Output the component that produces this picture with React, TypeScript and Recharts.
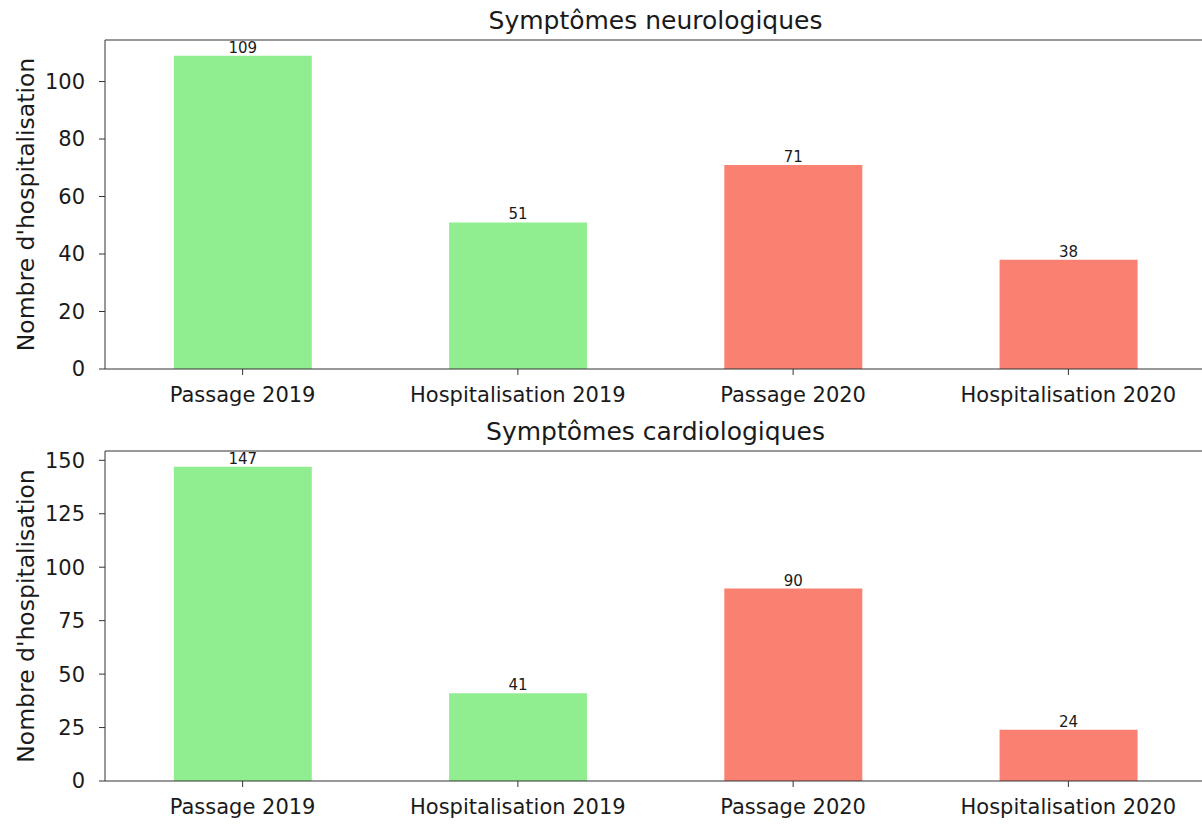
import React from 'react';
import { BarChart, Bar, XAxis, YAxis, Cell, LabelList, ReferenceLine } from 'recharts';

const categories = ['Passage 2019', 'Hospitalisation 2019', 'Passage 2020', 'Hospitalisation 2020'];
const neuroValues = [109, 51, 71, 38];
const cardioValues = [147, 41, 90, 24];
const barColors = ['#90EE90', '#90EE90', '#FA8072', '#FA8072'];
const neuroTicks = [0, 20, 40, 60, 80, 100];
const cardioTicks = [0, 25, 50, 75, 100, 125, 150];

const FONT = '"DejaVu Sans", sans-serif';
const INK = '#1a1a1a';
const SPINE = '#333';

interface PanelProps {
  title: string;
  values: number[];
  ticks: number[];
  top: number;
  height: number;
  marginTop: number;
  axisHeight: number;
}

function Panel({ title, values, ticks, top, height, marginTop, axisHeight }: PanelProps) {
  const data = categories.map((name, i) => ({ name, value: values[i] }));
  const max = Math.max(...values) * 1.05;

  return (
    <div style={{ position: 'absolute', left: 0, top, width: 1210, height }}>
      <div
        style={{
          position: 'absolute',
          left: 105,
          width: 1101,
          top: marginTop - 33,
          textAlign: 'center',
          fontFamily: FONT,
          fontSize: 25,
          color: INK,
          lineHeight: '28px',
        }}
      >
        {title}
      </div>
      <BarChart
        width={1210}
        height={height}
        data={data}
        barCategoryGap="25%"
        margin={{ top: marginTop, right: 4, left: 0, bottom: 0 }}
      >
        <XAxis
          dataKey="name"
          height={axisHeight}
          stroke={SPINE}
          tickSize={6}
          tickMargin={12}
          tick={{ fill: INK, fontSize: 21, fontFamily: FONT }}
          interval={0}
        />
        <YAxis
          width={105}
          domain={[0, max]}
          ticks={ticks}
          allowDataOverflow
          stroke={SPINE}
          tickSize={6}
          tickMargin={14}
          tick={{ fill: INK, fontSize: 21, fontFamily: FONT }}
          label={{
            value: "Nombre d'hospitalisation",
            angle: -90,
            position: 'insideLeft',
            offset: 26,
            style: { textAnchor: 'middle', fill: INK, fontSize: 23.5, fontFamily: FONT },
          }}
        />
        <ReferenceLine y={max} stroke={SPINE} strokeWidth={1} />
        <Bar dataKey="value" isAnimationActive={false}>
          {data.map((d, i) => (
            <Cell key={d.name} fill={barColors[i]} />
          ))}
          <LabelList
            dataKey="value"
            position="top"
            offset={3}
            style={{ fill: INK, fontSize: 15, fontFamily: FONT }}
          />
        </Bar>
      </BarChart>
    </div>
  );
}

export default function App() {
  return (
    <div
      style={{
        position: 'absolute',
        left: 0,
        top: 0,
        width: 1202,
        height: 825,
        overflow: 'hidden',
        background: '#fff',
      }}
    >
      <Panel
        title="Symptômes neurologiques"
        values={neuroValues}
        ticks={neuroTicks}
        top={0}
        height={412}
        marginTop={40}
        axisHeight={43}
      />
      <Panel
        title="Symptômes cardiologiques"
        values={cardioValues}
        ticks={cardioTicks}
        top={412}
        height={413}
        marginTop={39}
        axisHeight={44}
      />
    </div>
  );
}
